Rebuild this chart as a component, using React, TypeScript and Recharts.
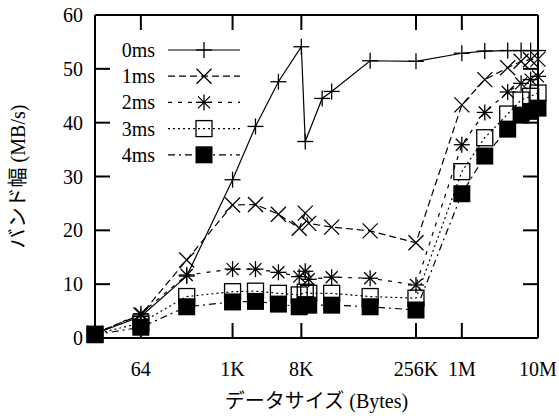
import React from 'react';
import { LineChart, Line, XAxis, YAxis, ReferenceLine, Legend, Label } from 'recharts';

// ---- data ----
const sizes = [16, 64, 256, 1024, 2048, 4096, 7680, 8192, 9216, 10240, 15360, 20480, 65536, 262144, 1048576, 2097152, 4194304, 6291456, 8388608, 10485760];
const ms0 = [0.8, 4.0, 11.5, 29.4, 39.3, 47.6, null, 54.1, 36.5, null, 44.5, 45.8, 51.5, 51.4, 52.9, 53.3, 53.4, 53.4, 53.4, 53.4];
const ms1 = [0.9, 4.3, 14.5, 24.7, 24.8, 23.0, 20.4, null, 23.2, 21.3, null, 20.6, 19.9, 17.7, 43.3, 48.0, 50.2, 51.4, 51.7, 51.8];
const ms2 = [0.8, 4.5, 11.7, 12.8, 12.8, 12.2, 11.4, null, 12.4, 10.9, null, 11.3, 11.1, 9.85, 35.9, 41.9, 45.7, 47.3, 48.0, 48.6];
const ms3 = [0.7, 2.8, 7.7, 8.6, 8.7, 8.3, 8.0, null, 8.5, 8.3, null, 8.3, 7.7, 7.4, 30.9, 37.2, 41.6, 44.2, 44.9, 45.5];
const ms4 = [0.6, 2.0, 5.8, 6.7, 6.8, 6.3, 5.8, null, 6.2, 6.1, null, 6.1, 5.8, 5.2, 26.8, 33.8, 38.8, 41.4, 42.1, 42.7];

const seriesNames = ['0ms', '1ms', '2ms', '3ms', '4ms'];
const xTickValues = [64, 1024, 8192, 262144, 1048576, 10485760];
const xTickLabels = ['64', '1K', '8K', '256K', '1M', '10M'];
const yTickValues = [0, 10, 20, 30, 40, 50, 60];
const xTitle = 'データサイズ (Bytes)';
const yTitle = 'バンド幅 (MB/s)';

const data = sizes.map((s, i) => ({ size: s, ms0: ms0[i], ms1: ms1[i], ms2: ms2[i], ms3: ms3[i], ms4: ms4[i] }));

// ---- style ----
const TXT: React.CSSProperties = {
  fontFamily: '"Liberation Serif", "Times New Roman", Times, "DejaVu Serif", serif, "Noto Sans CJK JP"',
  fontSize: 20,
  fill: '#000',
};
const PLOT_W = 443;
const PLOT_H = 323;
const TICK = 15;
const dashes = [undefined, '7 4', '4 6', '2 3', '7 4 2 4'];
const keys = ['ms0', 'ms1', 'ms2', 'ms3', 'ms4'];

function Marker({ kind, cx, cy }: { kind: number; cx: number; cy: number }) {
  const s = 8;
  const sw = 1.3;
  if (kind === 0) {
    return (
      <g stroke="#000" strokeWidth={sw}>
        <line x1={cx - s} y1={cy} x2={cx + s} y2={cy} />
        <line x1={cx} y1={cy - s} x2={cx} y2={cy + s} />
      </g>
    );
  }
  if (kind === 1) {
    const d = 7.5;
    return (
      <g stroke="#000" strokeWidth={sw}>
        <line x1={cx - d} y1={cy - d} x2={cx + d} y2={cy + d} />
        <line x1={cx - d} y1={cy + d} x2={cx + d} y2={cy - d} />
      </g>
    );
  }
  if (kind === 2) {
    const d = 6;
    return (
      <g stroke="#000" strokeWidth={sw}>
        <line x1={cx - s} y1={cy} x2={cx + s} y2={cy} />
        <line x1={cx} y1={cy - s} x2={cx} y2={cy + s} />
        <line x1={cx - d} y1={cy - d} x2={cx + d} y2={cy + d} />
        <line x1={cx - d} y1={cy + d} x2={cx + d} y2={cy - d} />
      </g>
    );
  }
  if (kind === 3) {
    return <rect x={cx - 8} y={cy - 8} width={16} height={16} fill="none" stroke="#000" strokeWidth={sw} />;
  }
  return <rect x={cx - 8.5} y={cy - 8.5} width={17} height={17} fill="#000" stroke="none" />;
}

const makeDot = (kind: number) => (props: any) => {
  const { cx, cy, index, value } = props;
  if (cx == null || cy == null || value == null || isNaN(cy)) return <g key={`d${kind}-${index}`} />;
  return (
    <g key={`d${kind}-${index}`}>
      <Marker kind={kind} cx={cx} cy={cy} />
    </g>
  );
};

const XTick = (props: any) => {
  const { x, y, payload } = props;
  const idx = xTickValues.indexOf(payload.value);
  return (
    <g>
      <line x1={x} y1={y} x2={x} y2={y - TICK} stroke="#000" strokeWidth={2} />
      <line x1={x} y1={y - PLOT_H} x2={x} y2={y - PLOT_H + TICK} stroke="#000" strokeWidth={2} />
      <text x={x} y={y + 31} textAnchor="middle" dominantBaseline="central" style={TXT}>
        {idx >= 0 ? xTickLabels[idx] : ''}
      </text>
    </g>
  );
};

const YTick = (props: any) => {
  const { x, y, payload } = props;
  return (
    <g>
      <line x1={x} y1={y} x2={x + TICK} y2={y} stroke="#000" strokeWidth={2} />
      <line x1={x + PLOT_W} y1={y} x2={x + PLOT_W - TICK} y2={y} stroke="#000" strokeWidth={2} />
      <text x={x - 12} y={y} textAnchor="end" dominantBaseline="central" style={TXT}>
        {payload.value}
      </text>
    </g>
  );
};

const XTitle = (props: any) => {
  const vb = props.viewBox || { x: 95, y: 338, width: 443 };
  return (
    <text x={vb.x + vb.width / 2} y={vb.y + 63} textAnchor="middle" dominantBaseline="central" style={TXT}>
      {xTitle}
    </text>
  );
};

const YTitle = (props: any) => {
  const vb = props.viewBox || { x: 0, y: 15, width: 95, height: 323 };
  const cx = 18;
  const cy = vb.y + vb.height / 2;
  return (
    <text x={cx} y={cy} transform={`rotate(-90, ${cx}, ${cy})`} textAnchor="middle" dominantBaseline="central" style={TXT}>
      {yTitle}
    </text>
  );
};

const LegendContent = () => {
  const rowY = (i: number) => 50 + i * 26.2;
  return (
    <svg width={250} height={170} style={{ display: 'block' }}>
      {seriesNames.map((name, i) => (
        <g key={name}>
          <text x={155} y={rowY(i)} textAnchor="end" dominantBaseline="central" style={TXT}>
            {name}
          </text>
          <line x1={168} y1={rowY(i)} x2={240} y2={rowY(i)} stroke="#000" strokeWidth={1.2} strokeDasharray={dashes[i]} />
          <Marker kind={i} cx={204} cy={rowY(i)} />
        </g>
      ))}
    </svg>
  );
};

export default function App() {
  return (
    <div style={{ position: 'absolute', left: 0, top: 0, background: '#fff' }}>
      <LineChart width={559} height={418} data={data} margin={{ top: 15, right: 21, bottom: 0, left: 0 }}>
        <XAxis
          dataKey="size"
          type="number"
          scale="log"
          domain={[16, 10485760]}
          ticks={xTickValues}
          interval={0}
          tick={<XTick />}
          tickLine={false}
          tickSize={0}
          tickMargin={0}
          axisLine={{ stroke: '#000', strokeWidth: 2 }}
          height={80}
        >
          <Label content={<XTitle />} />
        </XAxis>
        <YAxis
          type="number"
          domain={[0, 60]}
          ticks={yTickValues}
          interval={0}
          tick={<YTick />}
          tickLine={false}
          tickSize={0}
          tickMargin={0}
          axisLine={{ stroke: '#000', strokeWidth: 2 }}
          width={95}
        >
          <Label content={<YTitle />} />
        </YAxis>
        <ReferenceLine y={60} stroke="#000" strokeWidth={2} />
        <ReferenceLine x={10485760} stroke="#000" strokeWidth={2} />
        <Legend
          layout="vertical"
          align="center"
          verticalAlign="middle"
          content={<LegendContent />}
          wrapperStyle={{ position: 'absolute', left: 0, top: 0, width: 250, height: 170 }}
        />
        {keys.map((k, i) => (
          <Line
            key={k}
            dataKey={k}
            name={seriesNames[i]}
            stroke="#000"
            strokeWidth={1.2}
            strokeDasharray={dashes[i]}
            dot={makeDot(i)}
            activeDot={false}
            connectNulls
            isAnimationActive={false}
            type="linear"
          />
        ))}
      </LineChart>
    </div>
  );
}
